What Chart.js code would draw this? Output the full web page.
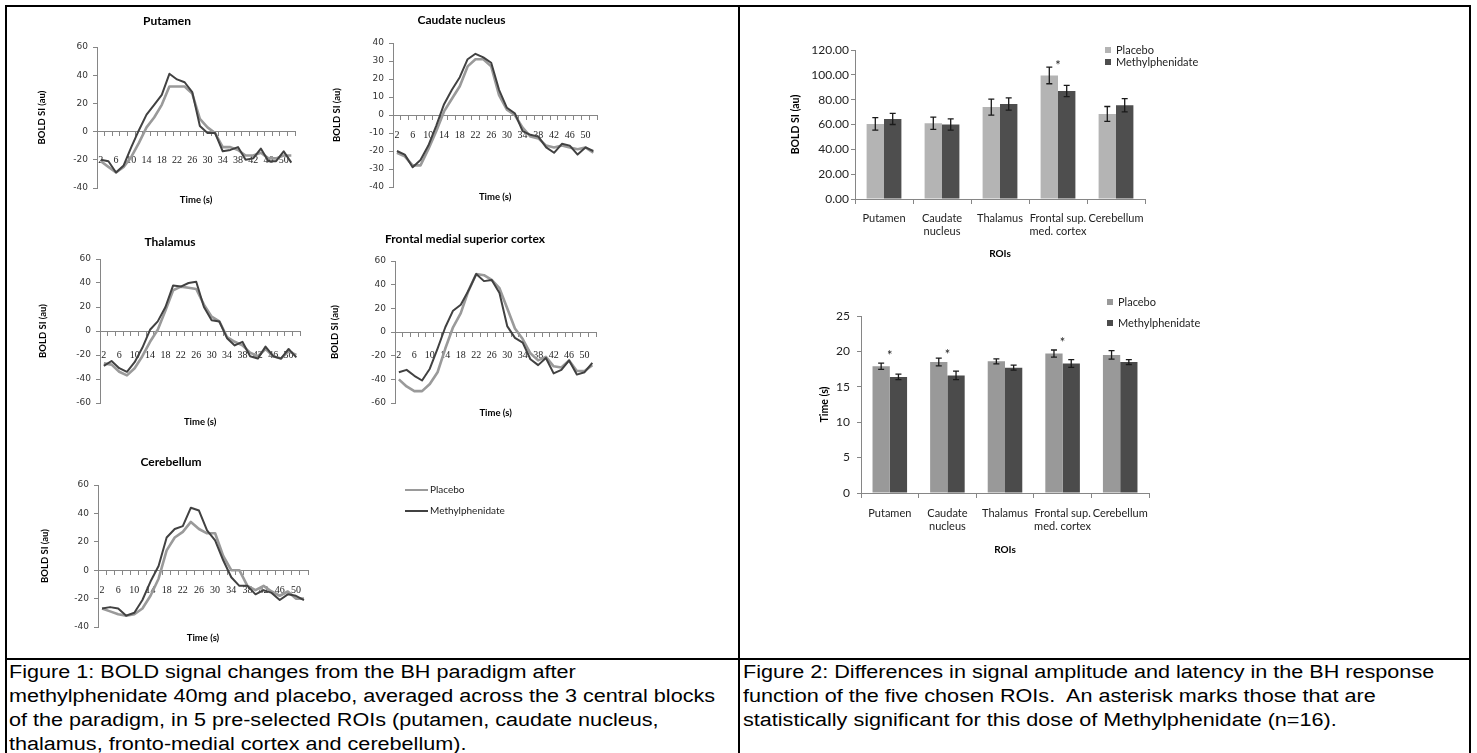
<!DOCTYPE html>
<html>
<head>
<meta charset="utf-8">
<script src="https://cdn.jsdelivr.net/npm/chart.js@4.4.1/dist/chart.umd.min.js"></script>
<style>
  body { margin: 0; background: #fff; width: 1477px; height: 753px; overflow: hidden; position: relative; }
  canvas { position: absolute; }
  .rule { position: absolute; background: #000; }
  .cap { position: absolute; top: 660px; font: 18px 'Liberation Sans', Arial, sans-serif; line-height: 24px;
         white-space: nowrap; transform: scaleX(1.2); transform-origin: 0 0; color: #000; }
</style>
</head>
<body>
<div class="rule" style="left:5px;top:5px;width:1466px;height:2px"></div>
<div class="rule" style="left:5px;top:5px;width:2px;height:748px"></div>
<div class="rule" style="left:1469px;top:5px;width:2px;height:748px"></div>
<div class="rule" style="left:738px;top:5px;width:2px;height:748px"></div>
<div class="rule" style="left:5px;top:658px;width:1466px;height:2px"></div>

<canvas id="putamen" width="290" height="204" style="left:20px;top:10px"></canvas>
<canvas id="caudate" width="289" height="204" style="left:315px;top:9px"></canvas>
<canvas id="thalamus" width="286" height="198" style="left:25px;top:231px"></canvas>
<canvas id="frontal" width="286" height="201" style="left:320px;top:228px"></canvas>
<canvas id="cerebellum" width="494" height="202" style="left:26px;top:451px"></canvas>
<canvas id="amp" width="485" height="234" style="left:760px;top:30px"></canvas>
<canvas id="lat" width="480" height="275" style="left:770px;top:285px"></canvas>

<div class="cap" style="left:9px">Figure 1: BOLD signal changes from the BH paradigm after<br>methylphenidate 40mg and placebo, averaged across the 3 central blocks<br>of the paradigm, in 5 pre-selected ROIs (putamen, caudate nucleus,<br>thalamus, fronto-medial cortex and cerebellum).</div>
<div class="cap" style="left:743px">Figure 2: Differences in signal amplitude and latency in the BH response<br>function of the five chosen ROIs.&nbsp; An asterisk marks those that are<br>statistically significant for this dose of Methylphenidate (n=16).</div>

<script>
// time axis of the BH response curves (s)
const timeLabels = ['2','4','6','8','10','12','14','16','18','20','22','24','26',
                    '28','30','32','34','36','38','40','42','44','46','48','50','52'];

const putamenPlacebo = [-21,-25,-29,-25,-18,-8,3,10,19,32,32,32,27,9,3,-1,-11,-11,-13,-17,-17,-15,-19,-19,-17,-17];
const putamenMethyl  = [-20,-21,-29,-24,-11,1,12,19,26,41,37,35,28,4,-1,-1,-14,-13,-11,-20,-19,-12,-21,-21,-14,-22];

const caudatePlacebo = [-21,-23,-28,-28,-19,-9,2,9,16,27,31,31,27,11,3,0,-7,-12,-13,-17,-18,-17,-18,-19,-18,-21];
const caudateMethyl  = [-20,-22,-29,-25,-17,-6,6,14,21,31,34,32,29,14,4,1,-9,-11,-12,-18,-21,-16,-17,-22,-18,-20];

const thalamusPlacebo = [-27,-28,-34,-37,-31,-21,-9,1,17,34,37,36,35,22,12,8,-5,-9,-12,-18,-21,-15,-21,-23,-17,-20];
const thalamusMethyl  = [-29,-25,-31,-34,-26,-14,1,8,20,38,37,40,41,20,9,8,-6,-12,-9,-21,-23,-13,-21,-23,-15,-22];

const frontalPlacebo = [-40,-46,-50,-50,-44,-34,-14,4,16,35,49,48,44,37,20,3,-6,-18,-24,-21,-29,-30,-24,-33,-33,-28];
const frontalMethyl  = [-34,-32,-37,-41,-31,-14,4,18,23,35,49,43,44,33,5,-5,-9,-23,-28,-22,-35,-32,-24,-36,-34,-26];

const cerebellumPlacebo = [-27,-29,-31,-32,-31,-27,-18,-6,14,23,27,34,29,26,26,10,0,0,-11,-14,-11,-15,-18,-15,-20,-20];
const cerebellumMethyl  = [-27,-26,-27,-32,-30,-21,-8,3,23,29,31,44,42,28,21,7,-5,-11,-11,-17,-14,-16,-21,-17,-18,-21];

// figure 2
const roiLabels = ['Putamen', ['Caudate', 'nucleus'], 'Thalamus', ['Frontal sup.', 'med. cortex'], 'Cerebellum'];
const ampPlacebo    = [60.5, 61, 74, 99.5, 68.5];
const ampPlaceboErr = [5, 5, 6.5, 6.7, 6];
const ampMethyl     = [64.5, 60, 76.5, 87, 75.5];
const ampMethylErr  = [4.5, 4.5, 5, 4.5, 5.3];
const ampStars      = [null, null, null, 110, null];

const latPlacebo    = [17.9, 18.5, 18.6, 19.7, 19.5];
const latPlaceboErr = [0.45, 0.55, 0.35, 0.5, 0.6];
const latMethyl     = [16.4, 16.6, 17.7, 18.3, 18.5];
const latMethylErr  = [0.4, 0.6, 0.35, 0.55, 0.35];
const latStars      = [19.8, 20.0, null, 21.6, null];

Chart.defaults.font.family = 'Lato';
Chart.defaults.color = '#222';
const AXIS = '#868686';

// error bars on top of each bar
const errorBars = {
  id: 'errorBars',
  afterDatasetsDraw(chart) {
    const ctx = chart.ctx, y = chart.scales.y;
    chart.data.datasets.forEach((ds, i) => {
      if (!ds.errors) return;
      chart.getDatasetMeta(i).data.forEach((bar, j) => {
        const top = y.getPixelForValue(ds.data[j] + ds.errors[j]);
        const bot = y.getPixelForValue(ds.data[j] - ds.errors[j]);
        ctx.save();
        ctx.strokeStyle = '#1a1a1a';
        ctx.lineWidth = 1.3;
        ctx.beginPath();
        ctx.moveTo(bar.x, top); ctx.lineTo(bar.x, bot);
        ctx.moveTo(bar.x - 3, top); ctx.lineTo(bar.x + 3, top);
        ctx.moveTo(bar.x - 3, bot); ctx.lineTo(bar.x + 3, bot);
        ctx.stroke();
        ctx.restore();
      });
    });
  }
};

// significance asterisks
const stars = {
  id: 'stars',
  afterDatasetsDraw(chart, args, o) {
    if (!o || !o.values) return;
    const {ctx, scales: {x, y}} = chart;
    ctx.save();
    ctx.font = '13px Lato';
    ctx.fillStyle = '#222';
    ctx.textAlign = 'center';
    ctx.textBaseline = 'middle';
    o.values.forEach((v, i) => {
      if (v !== null) ctx.fillText('*', x.getPixelForValue(i), y.getPixelForValue(v) + 3);
    });
    ctx.restore();
  }
};

// excel-style legend sitting next to / inside the plot
const sideLegend = {
  id: 'sideLegend',
  afterDraw(chart, args, o) {
    if (!o || o.dx === undefined) return;
    const ctx = chart.ctx, a = chart.chartArea;
    const x = a.right + o.dx;
    let y = a.top + o.dy;
    ctx.save();
    ctx.font = o.font;
    ctx.textBaseline = 'middle';
    chart.data.datasets.forEach(ds => {
      if (o.line) {
        ctx.strokeStyle = ds.borderColor;
        ctx.lineWidth = 2;
        ctx.beginPath(); ctx.moveTo(x, y); ctx.lineTo(x + o.line, y); ctx.stroke();
        ctx.fillStyle = '#222';
        ctx.fillText(ds.label, x + o.line + 2, y);
      } else {
        ctx.fillStyle = ds.backgroundColor;
        ctx.fillRect(x, y - o.box / 2, o.box, o.box);
        ctx.fillStyle = '#222';
        ctx.fillText(ds.label, x + o.box + 5, y);
      }
      y += o.gap;
    });
    ctx.restore();
  }
};

function lineChart(id, title, placebo, methyl, L) {
  new Chart(document.getElementById(id), {
    type: 'line',
    data: {
      labels: timeLabels,
      datasets: [
        {label: 'Placebo', data: placebo, borderColor: '#9a9a9a', borderWidth: 2.6, order: 1},
        {label: 'Methylphenidate', data: methyl, borderColor: '#414141', borderWidth: 2, order: 0}
      ]
    },
    options: {
      responsive: false,
      animation: false,
      layout: {padding: {left: 8, top: 0, right: L.padR, bottom: 26}},
      elements: {point: {radius: 0}, line: {tension: 0, borderJoinStyle: 'round'}},
      plugins: {
        legend: {display: false},
        tooltip: {enabled: false},
        title: {display: true, text: title, color: '#000', font: {size: 12, weight: 'bold'},
                padding: {top: 4, bottom: L.titlePadB}},
        sideLegend: L.legend || {}
      },
      scales: {
        x: {
          position: {y: 0},
          offset: true,
          grid: {offset: true, drawOnChartArea: false, tickLength: 4, color: AXIS},
          border: {color: AXIS},
          ticks: {autoSkip: false, maxRotation: 0, padding: L.xTickPad, color: '#222',
                  font: {family: 'Liberation Serif', size: 10},
                  callback: (v, i) => i % 2 === 0 ? timeLabels[i] : ''},
          title: {display: true, text: 'Time (s)', color: '#000', font: {size: 9.5, weight: 'bold'}, padding: 0},
          afterFit: s => { s.height = L.xH; }
        },
        y: {
          min: L.min, max: L.max,
          grid: {drawOnChartArea: false, tickLength: 4, color: AXIS},
          border: {color: AXIS},
          ticks: {stepSize: L.step, padding: 5, color: '#333', font: {family: 'DejaVu Sans', size: 9}},
          title: {display: true, text: 'BOLD SI (au)', color: '#000', font: {size: 9.5, weight: 'bold'},
                  padding: {top: L.yTitlePad, bottom: 0}},
          afterFit: s => { s.width = L.yW; }
        }
      }
    },
    plugins: [sideLegend]
  });
}

function barChart(id, placebo, placeboErr, methyl, methylErr, sig, yTitle, L) {
  new Chart(document.getElementById(id), {
    type: 'bar',
    data: {
      labels: roiLabels,
      datasets: [
        {label: 'Placebo', data: placebo, errors: placeboErr, backgroundColor: L.c1,
         categoryPercentage: 0.6, barPercentage: 1},
        {label: 'Methylphenidate', data: methyl, errors: methylErr, backgroundColor: L.c2,
         categoryPercentage: 0.6, barPercentage: 1}
      ]
    },
    options: {
      responsive: false,
      animation: false,
      layout: {padding: {left: 20, top: L.padT, right: L.padR, bottom: 4}},
      plugins: {
        legend: {display: false},
        tooltip: {enabled: false},
        stars: {values: sig},
        sideLegend: L.legend
      },
      scales: {
        x: {
          grid: {drawOnChartArea: false, tickLength: 5, color: AXIS},
          border: {color: AXIS},
          ticks: {autoSkip: false, maxRotation: 0, padding: L.xTickPad, color: '#222', font: {size: 11}},
          title: {display: true, text: 'ROIs', color: '#000', font: {size: 10, weight: 'bold'}, padding: 0},
          afterFit: s => { s.height = L.xH; }
        },
        y: {
          min: 0, max: L.max,
          grid: {drawOnChartArea: false, tickLength: 4, color: AXIS},
          border: {color: AXIS},
          ticks: {stepSize: L.step, padding: L.yTickPad, color: '#222', font: {size: 12},
                  callback: v => L.dec ? v.toFixed(2) : v},
          title: {display: true, text: yTitle, color: '#000', font: {size: 10.5, weight: 'bold'},
                  padding: {top: L.yTitlePad, bottom: 0}},
          afterFit: s => { s.width = L.yW; }
        }
      }
    },
    plugins: [errorBars, stars, sideLegend]
  });
}

lineChart('putamen', 'Putamen', putamenPlacebo, putamenMethyl,
  {min: -40, max: 60, step: 20, padR: 4, yW: 69, yTitlePad: 8, titlePadB: 18.6, xTickPad: 18.6, xH: 73.7});
lineChart('caudate', 'Caudate nucleus', caudatePlacebo, caudateMethyl,
  {min: -40, max: 40, step: 10, padR: 4, yW: 70, yTitlePad: 8.3, titlePadB: 15.6, xTickPad: 10.6, xH: 87.7});
lineChart('thalamus', 'Thalamus', thalamusPlacebo, thalamusMethyl,
  {min: -60, max: 60, step: 20, padR: 4, yW: 67, yTitlePad: 4.3, titlePadB: 9.6, xTickPad: 14.6, xH: 96.7});
lineChart('frontal', 'Frontal medial superior cortex', frontalPlacebo, frontalMethyl,
  {min: -60, max: 60, step: 20, padR: 4, yW: 67, yTitlePad: 1.3, titlePadB: 14.6, xTickPad: 13.6, xH: 86.7});
lineChart('cerebellum', 'Cerebellum', cerebellumPlacebo, cerebellumMethyl,
  {min: -40, max: 60, step: 20, padR: 212, yW: 64, yTitlePad: 5.3, titlePadB: 15.6, xTickPad: 10.6, xH: 73.7,
   legend: {dx: 97, dy: 5, gap: 21, line: 23, font: '10px Lato'}});

barChart('amp', ampPlacebo, ampPlaceboErr, ampMethyl, ampMethylErr, ampStars, 'BOLD SI (au)',
  {max: 120, step: 20, dec: true, c1: '#b4b4b4', c2: '#4e4e4e', padT: 20, padR: 100, yW: 75,
   yTitlePad: 9.2, yTickPad: 2, xTickPad: 7.4, xH: 61, legend: {dx: -40, dy: 0, gap: 12, box: 6, font: '11px Lato'}});
barChart('lat', latPlacebo, latPlaceboErr, latMethyl, latMethylErr, latStars, 'Time (s)',
  {max: 25, step: 5, dec: false, c1: '#999999', c2: '#4b4b4b', padT: 31, padR: 101, yW: 71,
   yTitlePad: 28.7, yTickPad: 7, xTickPad: 8.4, xH: 63, legend: {dx: -42, dy: -14, gap: 21, box: 6, font: '11px Lato'}});
</script>
</body>
</html>
